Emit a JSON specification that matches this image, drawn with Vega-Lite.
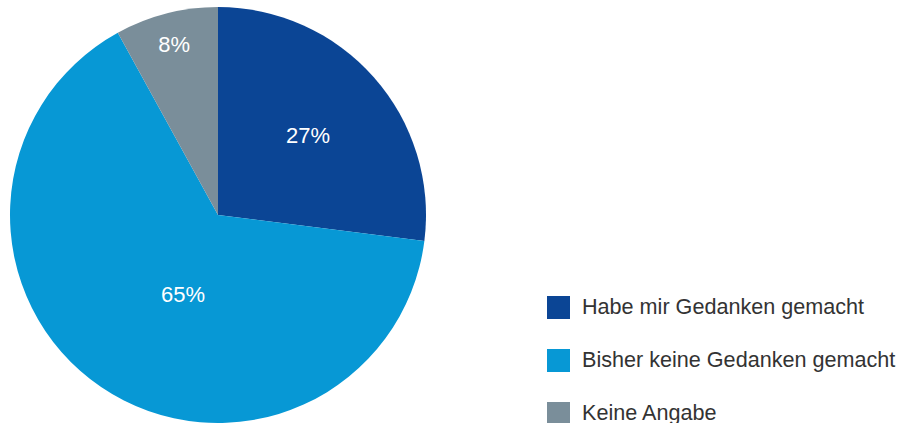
{
  "$schema": "https://vega.github.io/schema/vega-lite/v6.json",
  "width": 436,
  "height": 430,
  "padding": 0,
  "autosize": {"type": "pad"},
  "background": "white",
  "config": {"view": {"stroke": null}},
  "data": {"values": [
    {"category": "Habe mir Gedanken gemacht", "value": 27, "label": "27%", "ord": 1},
    {"category": "Bisher keine Gedanken gemacht", "value": 65, "label": "65%", "ord": 2},
    {"category": "Keine Angabe", "value": 8, "label": "8%", "ord": 3}
  ]},
  "encoding": {
    "theta": {"field": "value", "type": "quantitative", "stack": true},
    "order": {"field": "ord", "type": "quantitative"}
  },
  "layer": [
    {
      "mark": {"type": "arc", "outerRadius": 208},
      "encoding": {
        "color": {
          "field": "category", "type": "nominal",
          "scale": {"domain": ["Habe mir Gedanken gemacht", "Bisher keine Gedanken gemacht", "Keine Angabe"], "range": ["#0B4595", "#0798D5", "#7A8E9A"]},
          "legend": {
            "title": null, "orient": "none", "legendX": 547, "legendY": 296,
            "symbolType": "square", "symbolSize": 529, "symbolStrokeWidth": 0, "symbolOpacity": 1,
            "labelFont": "Liberation Sans", "labelFontSize": 21.6, "labelColor": "#333333",
            "labelOffset": 12, "rowPadding": 30, "labelLimit": 400
          }
        }
      }
    },
    {
      "mark": {"type": "text", "radius": 120, "color": "white", "font": "Liberation Sans", "fontSize": 22},
      "encoding": {"text": {"condition": {"test": "datum.ord == 1", "field": "label"}, "value": ""}}
    },
    {
      "mark": {"type": "text", "radius": 87, "dx": 14, "dy": 8, "color": "white", "font": "Liberation Sans", "fontSize": 22},
      "encoding": {"text": {"condition": {"test": "datum.ord == 2", "field": "label"}, "value": ""}}
    },
    {
      "mark": {"type": "text", "radius": 176, "color": "white", "font": "Liberation Sans", "fontSize": 22},
      "encoding": {"text": {"condition": {"test": "datum.ord == 3", "field": "label"}, "value": ""}}
    }
  ]
}
